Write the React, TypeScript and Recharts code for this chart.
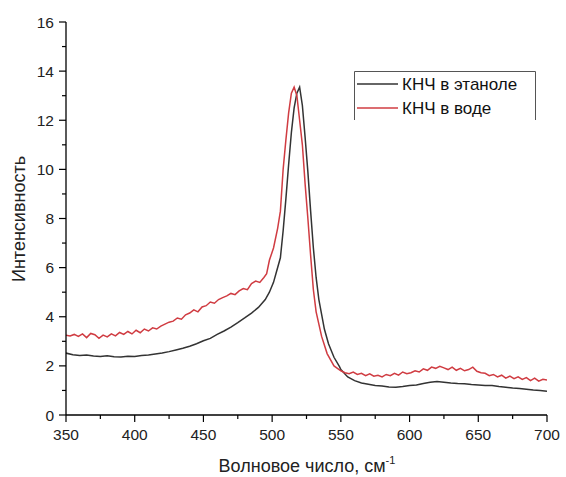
import React from 'react';
import { LineChart, Line, XAxis, YAxis } from 'recharts';

// ---- data ----
const ethanolX = [350,355,360,365,370,375,380,385,390,395,400,405,410,415,420,425,430,435,440,445,450,455,460,465,470,475,480,485,490,495,498,
  501,503,506,508,510,512,514,516,518,520,522,524,526,528,530,532,534,536,538,541,545,549,
  550,555,560,565,570,575,580,585,590,595,600,605,610,615,620,625,630,635,640,645,650,655,660,665,670,675,680,685,690,695,700];
const ethanolY = [2.52,2.45,2.42,2.44,2.4,2.38,2.41,2.37,2.36,2.39,2.38,2.42,2.44,2.48,2.52,2.58,2.65,2.72,2.8,2.9,3.02,3.12,3.28,3.42,3.58,3.76,3.95,4.15,4.38,4.7,5.0,
  5.4,5.8,6.4,7.5,8.8,10.2,11.5,12.5,13.1,13.35,12.6,11.3,9.9,8.3,6.8,5.6,4.7,4.1,3.5,2.9,2.35,1.97,
  1.85,1.55,1.4,1.3,1.25,1.2,1.18,1.14,1.13,1.16,1.2,1.22,1.28,1.33,1.36,1.33,1.3,1.28,1.27,1.24,1.22,1.2,1.2,1.16,1.13,1.1,1.08,1.05,1.02,1.0,0.97];

const waterX = [350,353,356,359,362,365,368,371,374,377,380,383,386,389,392,395,398,401,404,407,410,413,416,419,422,425,428,431,434,437,440,443,446,449,452,455,458,461,464,467,470,473,476,479,482,485,488,491,494,496,
  498,501,504,506,508,510,512,514,516,518,520,522,524,526,528,530,532,536,540,545,
  550,553,556,559,562,565,568,571,574,577,580,583,586,589,592,595,598,601,604,607,610,613,616,619,622,625,628,631,634,637,640,643,646,649,652,655,658,661,664,667,670,673,676,679,682,685,688,691,694,697,700];
const waterY = [3.25,3.22,3.28,3.2,3.3,3.15,3.32,3.27,3.12,3.25,3.18,3.3,3.22,3.36,3.28,3.4,3.3,3.45,3.35,3.5,3.42,3.55,3.5,3.62,3.7,3.78,3.82,3.95,3.9,4.08,4.15,4.28,4.2,4.4,4.45,4.6,4.55,4.7,4.78,4.85,4.95,4.9,5.05,5.15,5.1,5.35,5.45,5.4,5.6,5.75,
  6.3,6.8,7.6,8.3,10.0,11.2,12.3,13.1,13.35,13.0,12.0,11.0,9.4,8.0,6.5,5.1,4.2,3.2,2.5,2.0,
  1.8,1.72,1.68,1.75,1.65,1.7,1.6,1.68,1.58,1.62,1.55,1.65,1.6,1.7,1.62,1.75,1.68,1.72,1.8,1.75,1.88,1.82,1.95,1.9,1.98,1.92,1.85,1.95,1.82,1.9,1.8,1.85,1.95,1.78,1.72,1.7,1.6,1.65,1.55,1.62,1.5,1.58,1.48,1.55,1.45,1.52,1.4,1.5,1.38,1.45,1.42];

const xTicks = [350,375,400,425,450,475,500,525,550,575,600,625,650,675,700];
const yTicks = [0,1,2,3,4,5,6,7,8,9,10,11,12,13,14,15,16];
const seriesNames = ['КНЧ в этаноле', 'КНЧ в воде'];
const xTitle = 'Волновое число, см';
const xTitleSup = '-1';
const yTitle = 'Интенсивность';

const ethanolData = ethanolX.map((x, i) => ({ x, y: ethanolY[i] }));
const waterData = waterX.map((x, i) => ({ x, y: waterY[i] }));

const FONT = 'Liberation Sans, Arial, sans-serif';
const BLACK = '#333333';
const RED = '#d03c42';

const YTick = (props: any) => {
  const { x, y, payload } = props;
  const major = payload.value % 2 === 0;
  return (
    <g>
      <line x1={x} x2={x - (major ? 7 : 4)} y1={y} y2={y} stroke="#000" strokeWidth={1.2} />
      {major && (
        <text x={x - 12} y={y} dy={5.5} textAnchor="end" fontSize={15.5} fill="#222" fontFamily={FONT}>
          {payload.value}
        </text>
      )}
    </g>
  );
};

const XTick = (props: any) => {
  const { x, y, payload } = props;
  const major = payload.value % 50 === 0;
  return (
    <g>
      <line x1={x} x2={x} y1={y} y2={y + (major ? 7 : 4)} stroke="#000" strokeWidth={1.2} />
      {major && (
        <text x={x} y={y + 25} textAnchor="middle" fontSize={15.5} fill="#222" fontFamily={FONT}>
          {payload.value}
        </text>
      )}
    </g>
  );
};

const LegendBox = () => (
  <svg width={184} height={50} style={{ display: 'block' }}>
    <path d="M0.5,49 L0.5,0.5 L181.5,0.5 L181.5,49" fill="#fff" stroke="#555" strokeWidth={1} />
    <line x1={3} x2={44} y1={13} y2={13} stroke={BLACK} strokeWidth={1.5} />
    <text x={48} y={19} fontSize={17} fill="#111" fontFamily={FONT}>{seriesNames[0]}</text>
    <line x1={3} x2={44} y1={37} y2={37} stroke={RED} strokeWidth={1.5} />
    <text x={48} y={43} fontSize={17} fill="#111" fontFamily={FONT}>{seriesNames[1]}</text>
  </svg>
);

export default function App() {
  return (
    <div style={{ position: 'absolute', left: 0, top: 0, width: 566, height: 477, background: '#fff' }}>
      <LineChart width={566} height={477} margin={{ top: 22, right: 19, left: 0, bottom: 0 }}>
        <XAxis
          dataKey="x"
          type="number"
          domain={[350, 700]}
          ticks={xTicks}
          interval={0}
          height={62}
          tickSize={0}
          tickMargin={0}
          tickLine={false}
          axisLine={{ stroke: '#000', strokeWidth: 1.3 }}
          tick={<XTick />}
          allowDataOverflow
          label={{
            content: () => (
              <text x={307} y={472} textAnchor="middle" fontSize={18} fill="#222" fontFamily={FONT}>
                {xTitle}
                <tspan fontSize={11} dy={-8}>{xTitleSup}</tspan>
              </text>
            ),
          }}
        />
        <YAxis
          type="number"
          domain={[0, 16]}
          ticks={yTicks}
          interval={0}
          width={66}
          tickSize={0}
          tickMargin={0}
          tickLine={false}
          axisLine={{ stroke: '#000', strokeWidth: 1.3 }}
          tick={<YTick />}
          allowDataOverflow
          label={{
            content: () => (
              <text
                x={0}
                y={0}
                transform="translate(25,219) rotate(-90)"
                textAnchor="middle"
                fontSize={18}
                fill="#222"
                fontFamily={FONT}
              >
                {yTitle}
              </text>
            ),
          }}
        />
        <Line
          data={ethanolData}
          dataKey="y"
          name={seriesNames[0]}
          stroke={BLACK}
          strokeWidth={1.5}
          dot={false}
          type="linear"
          isAnimationActive={false}
        />
        <Line
          data={waterData}
          dataKey="y"
          name={seriesNames[1]}
          stroke={RED}
          strokeWidth={1.5}
          dot={false}
          type="linear"
          isAnimationActive={false}
        />
      </LineChart>
      <div style={{ position: 'absolute', left: 354, top: 71 }}>
        <LegendBox />
      </div>
    </div>
  );
}
